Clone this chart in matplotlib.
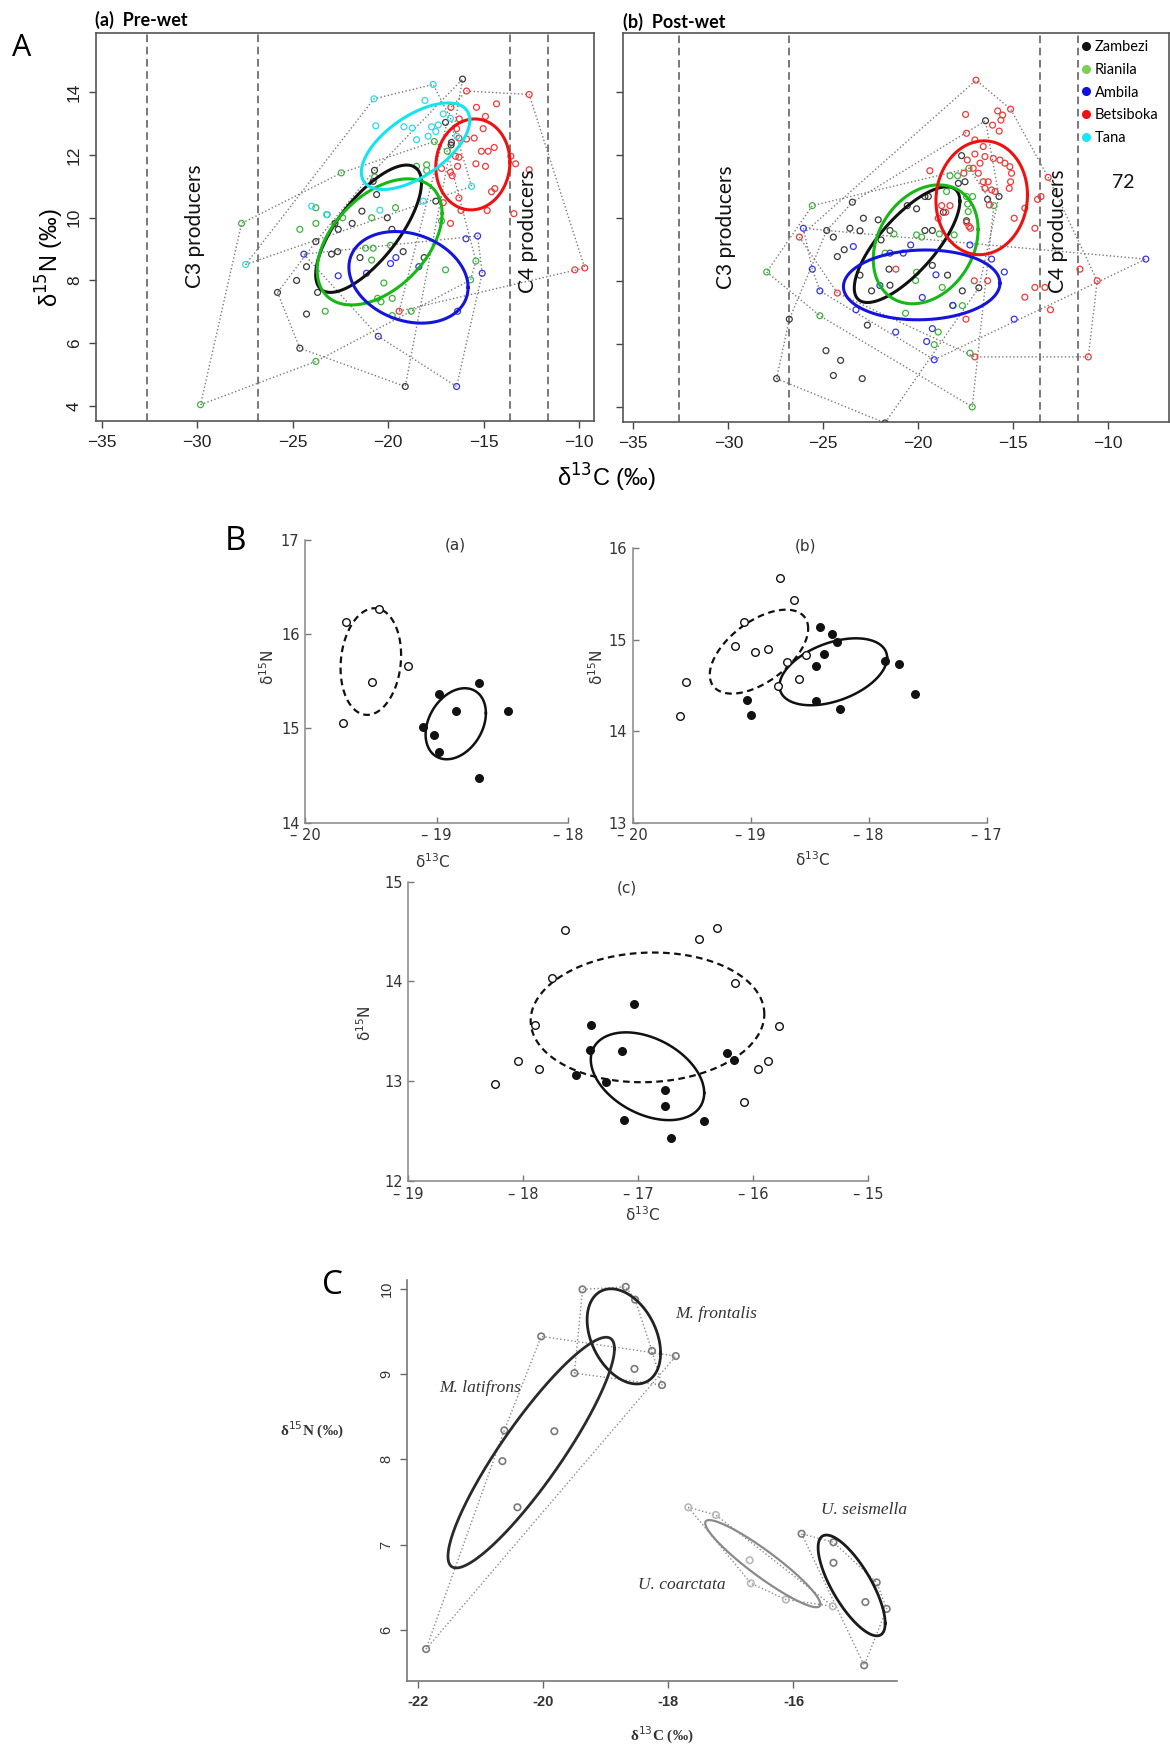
import numpy as np
import matplotlib
matplotlib.use("Agg")
import matplotlib.pyplot as plt
from matplotlib.lines import Line2D

W, H = 1170, 1745

# ---------------- A (a) pre-wet: d13C / d15N per river ----------------
zam_pre_x = [-16.1, -16.99, -16.68, -16.7, -20.71, -20.78, -20.6, -21.37, -21.88, -22.78, -22.61, -20.04, -19.8,
             -23.78, -22.96, -22.64, -21.47, -19.21, -18.11, -24.27, -24.79, -25.79, -23.69, -24.27, -24.62, -19.1, -17.5]
zam_pre_y = [14.42, 13.04, 12.4, 12.32, 11.51, 11.16, 10.74, 10.21, 9.82, 9.82, 9.63, 10.0, 9.63,
             9.24, 8.84, 8.92, 8.73, 8.92, 8.73, 8.44, 8.0, 7.62, 7.62, 6.93, 5.84, 4.62, 10.53]
ria_pre_x = [-27.67, -29.82, -23.78, -22.45, -23.78, -23.19, -24.62, -23.78, -22.38, -20.86, -19.61, -18.51, -17.98,
             -17.98, -17.58, -16.9, -20.78, -21.18, -19.87, -20.86, -20.22, -20.55, -20.37, -19.78, -23.29, -19.78,
             -18.79, -16.99, -15.68, -15.4, -20.7, -17.2]
ria_pre_y = [9.82, 4.04, 5.42, 11.43, 10.32, 10.1, 9.63, 9.82, 10.0, 10.0, 10.32, 11.64, 11.69,
             11.51, 12.43, 12.12, 9.03, 9.03, 9.12, 8.65, 7.92, 7.43, 7.32, 7.43, 7.02, 6.88,
             7.02, 8.34, 8.02, 8.62, 11.3, 9.9]
amb_pre_x = [-24.41, -22.61, -21.13, -19.87, -19.59, -18.39, -15.92, -15.31, -15.07, -16.36, -20.51, -16.41]
amb_pre_y = [8.84, 8.15, 8.23, 8.54, 8.73, 8.44, 9.33, 9.42, 8.23, 7.02, 6.22, 4.62]
bet_pre_x = [-15.89, -12.61, -15.37, -14.32, -14.9, -16.71, -16.27, -15.02, -16.41, -15.89, -15.49, -16.29, -14.44,
             -14.76, -15.11, -16.47, -16.29, -13.57, -13.32, -15.4, -14.9, -16.36, -17.2, -16.73, -16.64, -12.61,
             -14.41, -14.58, -16.29, -16.18, -14.81, -13.41, -16.73, -17.11, -19.42, -10.22, -9.7]
bet_pre_y = [14.04, 13.93, 13.52, 13.63, 13.23, 13.52, 13.15, 12.84, 12.84, 12.51, 12.54, 12.54, 12.24,
             12.12, 12.12, 11.96, 11.93, 11.96, 11.72, 11.72, 11.64, 11.64, 11.57, 11.45, 11.34, 11.53,
             10.93, 10.83, 10.63, 10.23, 10.23, 10.13, 9.82, 10.48, 7.02, 8.34, 8.4]
tan_pre_x = [-17.64, -20.74, -18.07, -20.64, -19.17, -18.73, -17.72, -17.37, -17.11, -16.73, -18.51, -17.9,
             -15.63, -18.16, -20.43, -24.0, -23.22, -27.46, -16.4, -17.5]
tan_pre_y = [14.25, 13.79, 13.74, 12.93, 12.9, 12.86, 12.9, 12.96, 13.31, 13.17, 12.49, 12.6,
             11.0, 10.53, 10.24, 10.37, 10.1, 8.51, 12.6, 12.75]

# ---------------- A (b) post-wet ----------------
zam_post_x = [-16.46, -17.72, -17.89, -17.54, -16.35, -15.75, -18.68, -19.65, -19.47, -20.58, -20.09, -22.11,
              -22.89, -23.47, -24.82, -24.47, -23.6, -23.07, -21.96, -21.49, -19.65, -19.26, -23.9, -24.26,
              -19.26, -21.54, -23.07, -22.46, -21.49, -18.46, -17.46, -17.68, -16.81, -22.68, -26.79, -24.86,
              -24.09, -24.47, -22.95, -27.46, -21.75]
zam_post_y = [13.1, 11.99, 11.11, 11.16, 10.6, 10.69, 10.19, 10.69, 10.69, 10.4, 10.3, 9.95,
              10.0, 10.51, 9.61, 9.4, 9.68, 9.6, 9.31, 9.61, 9.61, 9.61, 9.0, 8.78,
              8.5, 8.38, 8.19, 7.69, 7.87, 8.19, 9.92, 7.69, 7.79, 6.6, 6.79, 5.79,
              5.48, 5.0, 4.9, 4.9, 3.49]
ria_post_x = [-25.58, -27.98, -25.18, -17.28, -17.16, -19.16, -18.95, -20.67, -18.16, -17.68, -18.74, -20.14,
              -20.09, -21.28, -20.09, -19.82, -18.89, -18.11, -17.4, -17.37, -17.46, -17.14, -17.93, -18.33,
              -17.33, -16.02, -18.51, -21.75]
ria_post_y = [10.4, 8.29, 6.9, 5.71, 4.0, 5.98, 6.38, 6.98, 7.22, 7.22, 7.8, 8.02,
              8.28, 9.5, 9.47, 9.4, 9.5, 9.47, 10.45, 10.21, 10.69, 10.69, 11.35, 11.35,
              11.59, 10.4, 10.85, 8.89]
amb_post_x = [-26.05, -25.58, -25.18, -23.28, -23.42, -22.02, -20.4, -20.79, -19.79, -19.07, -18.19, -17.28,
              -16.14, -15.47, -14.95, -21.19, -19.26, -19.56, -19.16, -8.02, -21.49]
amb_post_y = [9.68, 8.38, 7.69, 7.09, 9.1, 7.86, 9.15, 8.89, 7.48, 8.2, 7.23, 9.15,
              8.7, 8.29, 6.79, 6.38, 6.49, 6.08, 5.5, 8.7, 8.89]
bet_post_x = [-16.96, -15.14, -17.51, -15.82, -15.56, -15.65, -16.09, -15.74, -17.46, -17.02, -16.58, -17.02,
              -16.49, -16.05, -15.7, -15.44, -15.18, -15.09, -15.14, -15.21, -16.75, -17.11, -16.84, -16.58,
              -16.32, -16.49, -16.14, -15.96, -17.42, -17.6, -19.39, -18.77, -18.33, -18.56, -18.95, -17.46,
              -17.33, -17.25, -16.26, -14.95, -13.72, -13.54, -13.86, -13.16, -14.39, -21.18, -24.26, -26.26,
              -17.05, -16.35, -17.49, -17.02, -14.39, -13.86, -13.33, -13.04, -11.49, -11.05, -10.58]
bet_post_y = [14.39, 13.47, 13.3, 13.41, 13.28, 13.12, 12.96, 12.77, 12.7, 12.49, 12.28, 12.04,
              11.96, 11.9, 11.85, 11.75, 11.64, 11.43, 11.16, 10.95, 11.75, 11.59, 11.43, 11.16,
              11.16, 10.95, 10.9, 10.85, 11.85, 11.43, 11.51, 10.4, 10.4, 10.19, 10.0, 9.87,
              9.74, 9.68, 10.42, 10.0, 10.6, 10.69, 9.68, 11.3, 10.32, 8.38, 7.62, 9.4,
              8.01, 8.01, 6.79, 5.59, 7.49, 7.8, 7.8, 7.09, 8.38, 5.59, 8.01]

# standard ellipses: centre x, centre y, sd x, sd y, correlation
ell_pre = {'Zambezi': (-21.02, 9.65, 2.77, 2.03, 0.72),
           'Rianila': (-20.44, 9.23, 3.27, 2.01, 0.45),
           'Ambila': (-18.93, 8.10, 3.12, 1.46, -0.22),
           'Betsiboka': (-15.56, 11.70, 1.94, 1.45, 0.05),
           'Tana': (-18.56, 12.28, 2.84, 1.38, 0.6)}
ell_post = {'Zambezi': (-20.59, 9.16, 2.78, 1.84, 0.75),
            'Rianila': (-19.61, 9.17, 2.76, 1.89, 0.25),
            'Ambila': (-19.82, 7.88, 4.12, 1.11, 0.05),
            'Betsiboka': (-16.66, 10.65, 2.41, 1.81, 0.05)}

rivers = ['Zambezi', 'Rianila', 'Ambila', 'Betsiboka', 'Tana']
pt_col = {'Zambezi': '#3a3a3a', 'Rianila': '#3fb23f', 'Ambila': '#3535e0',
          'Betsiboka': '#ee3a3a', 'Tana': '#2fd8e6'}
ell_col = {'Zambezi': '#111111', 'Rianila': '#16b816', 'Ambila': '#1414dc',
           'Betsiboka': '#ee1111', 'Tana': '#14e4f0'}
leg_col = {'Zambezi': '#111111', 'Rianila': '#7ccf55', 'Ambila': '#1010e0',
           'Betsiboka': '#f01010', 'Tana': '#18e6f6'}
source_lines = [-32.6, -26.8, -13.6, -11.6]

pre = {'Zambezi': (zam_pre_x, zam_pre_y), 'Rianila': (ria_pre_x, ria_pre_y), 'Ambila': (amb_pre_x, amb_pre_y),
       'Betsiboka': (bet_pre_x, bet_pre_y), 'Tana': (tan_pre_x, tan_pre_y)}
post = {'Zambezi': (zam_post_x, zam_post_y), 'Rianila': (ria_post_x, ria_post_y),
        'Ambila': (amb_post_x, amb_post_y), 'Betsiboka': (bet_post_x, bet_post_y)}

# ---------------- B: open = group 1 (dashed), filled = group 2 (solid) ----------------
ba_open_x = [-19.69, -19.44, -19.22, -19.49, -19.71]
ba_open_y = [16.13, 16.27, 15.66, 15.49, 15.06]
ba_fill_x = [-18.68, -18.98, -18.85, -18.46, -19.1, -19.02, -18.98, -18.68]
ba_fill_y = [15.48, 15.37, 15.19, 15.19, 15.02, 14.93, 14.75, 14.47]
ba_ell = [(-19.5, 15.71, 0.23, 0.566, 0.12), (-18.855, 15.05, 0.229, 0.377, 0.3)]

bb_open_x = [-18.75, -18.63, -19.06, -19.13, -18.96, -18.85, -18.69, -18.53, -18.59, -18.77, -19.55, -19.6]
bb_open_y = [15.67, 15.44, 15.19, 14.93, 14.87, 14.9, 14.76, 14.83, 14.57, 14.49, 14.54, 14.17]
bb_fill_x = [-18.41, -18.31, -18.27, -18.38, -18.45, -18.45, -17.86, -17.74, -17.61, -18.24, -19.03, -19.0]
bb_fill_y = [15.14, 15.06, 14.98, 14.84, 14.71, 14.33, 14.77, 14.74, 14.41, 14.24, 14.34, 14.18]
bb_ell = [(-18.93, 14.87, 0.417, 0.459, 0.55), (-18.3, 14.65, 0.456, 0.366, 0.42)]

bc_open_x = [-17.64, -16.32, -16.47, -17.75, -16.16, -17.9, -15.78, -18.05, -17.86, -18.25, -15.87, -15.96, -16.08]
bc_open_y = [14.52, 14.54, 14.43, 14.03, 13.98, 13.56, 13.55, 13.2, 13.12, 12.97, 13.2, 13.12, 12.79]
bc_fill_x = [-17.04, -17.41, -17.42, -17.14, -17.54, -17.28, -16.23, -16.17, -16.77, -16.77, -17.12, -16.43, -16.72]
bc_fill_y = [13.77, 13.56, 13.31, 13.3, 13.06, 12.99, 13.28, 13.21, 12.91, 12.75, 12.61, 12.6, 12.43]
bc_ell = [(-16.92, 13.64, 1.016, 0.65, 0.05), (-16.92, 13.05, 0.493, 0.44, -0.38)]

# ---------------- C: four species ----------------
mfro_x = [-19.37, -18.68, -18.53, -18.26, -18.54, -18.1, -19.5]
mfro_y = [9.99, 10.02, 9.87, 9.27, 9.06, 8.87, 9.01]
mlat_x = [-20.03, -17.88, -20.62, -19.82, -20.65, -20.41, -21.87]
mlat_y = [9.44, 9.21, 8.34, 8.33, 7.98, 7.44, 5.78]
ucoa_x = [-17.68, -17.24, -16.7, -16.68, -16.12, -15.37]
ucoa_y = [7.44, 7.35, 6.82, 6.55, 6.36, 6.28]
usei_x = [-15.87, -15.36, -15.36, -14.67, -14.85, -14.51, -14.87]
usei_y = [7.13, 7.03, 6.79, 6.56, 6.33, 6.25, 5.59]
c_ell = {'M. frontalis': (-18.71, 9.44, 0.587, 0.557, -0.35),
         'M. latifrons': (-20.19, 8.08, 1.33, 1.35, 0.9),
         'U. coarctata': (-16.49, 6.78, 0.92, 0.51, -0.93),
         'U. seismella': (-15.07, 6.525, 0.536, 0.59, -0.75)}


def hull(xs, ys):
    pts = sorted(set(zip(xs, ys)))

    def cross(o, a, b):
        return (a[0] - o[0]) * (b[1] - o[1]) - (a[1] - o[1]) * (b[0] - o[0])

    lower, upper = [], []
    for p in pts:
        while len(lower) >= 2 and cross(lower[-2], lower[-1], p) <= 0:
            lower.pop()
        lower.append(p)
    for p in reversed(pts):
        while len(upper) >= 2 and cross(upper[-2], upper[-1], p) <= 0:
            upper.pop()
        upper.append(p)
    h = lower[:-1] + upper[:-1]
    h.append(h[0])
    return np.array(h)


def ellipse_xy(cx, cy, sx, sy, rho, n=240):
    t = np.linspace(0, 2 * np.pi, n)
    d = np.arccos(rho)
    return cx + sx * np.cos(t), cy + sy * np.cos(t - d)


def px_axes(fig, left, top, right, bottom):
    return fig.add_axes([left / W, 1 - bottom / H, (right - left) / W, (bottom - top) / H])


def ftext(fig, x, y, s, **kw):
    kw.setdefault('ha', 'center')
    kw.setdefault('va', 'center')
    fig.text(x / W, 1 - y / H, s, **kw)


fig = plt.figure(figsize=(W / 100, H / 100), dpi=100)
fig.patch.set_facecolor('white')

# ================= panel A =================
def iso_panel(ax, data, ells, xlim, show_ylabels):
    for xv in source_lines:
        ax.axvline(xv, color='#555555', ls=(0, (5, 3)), lw=1.1, zorder=1)
    for r in rivers:
        if r not in data:
            continue
        xs, ys = data[r]
        hp = hull(xs, ys)
        ax.plot(hp[:, 0], hp[:, 1], color='#7a7a7a', ls=':', lw=1.0, zorder=2)
    for r in rivers:
        if r not in data:
            continue
        xs, ys = data[r]
        ax.scatter(xs, ys, s=18, facecolors='none', edgecolors=pt_col[r], linewidths=0.9, zorder=3)
    for r in rivers:
        if r not in ells:
            continue
        ex, ey = ellipse_xy(*ells[r])
        ax.plot(ex, ey, color=ell_col[r], lw=2.2, zorder=4)
    ax.set_xlim(*xlim)
    ax.set_ylim(3.53, 15.88)
    ax.set_xticks([-35, -30, -25, -20, -15, -10])
    ax.set_yticks([4, 6, 8, 10, 12, 14])
    ax.tick_params(direction='out', length=5, width=1, colors='#444444', labelsize=12.5, pad=5)
    for lab in ax.get_xticklabels() + ax.get_yticklabels():
        lab.set_family('Liberation Sans')
        lab.set_color('#222222')
    if show_ylabels:
        plt.setp(ax.get_yticklabels(), rotation=90, va='center')
    else:
        ax.set_yticklabels([])
    for sp in ax.spines.values():
        sp.set_color('#555555')
        sp.set_linewidth(1.2)
    ax.text(-30.1, 9.72, 'C3 producers', rotation=90, ha='center', va='center',
            family='Lato', fontsize=15, color='#111111', zorder=5)
    ax.text(-12.65, 9.58, 'C4 producers', rotation=90, ha='center', va='center',
            family='Lato', fontsize=15, color='#111111', zorder=5)


axa = px_axes(fig, 95.7, 33.3, 594.3, 420.7)
iso_panel(axa, pre, ell_pre, (-35.31, -9.2), True)
axb = px_axes(fig, 623.3, 33.3, 1169.0, 421.7)
iso_panel(axb, post, ell_post, (-35.53, -6.8), False)
axb.text(-9.23, 11.15, '72', ha='center', va='center', family='Lato', fontsize=14, color='#111111')
handles = [Line2D([], [], marker='o', ls='', color=leg_col[r], markersize=5.5) for r in rivers]
axb.legend(handles, rivers, loc='upper left', bbox_to_anchor=(0.836, 0.99), frameon=False,
           prop={'family': 'Lato', 'size': 10.5}, handlelength=0.5, handletextpad=0.35,
           labelspacing=0.6, borderaxespad=0, borderpad=0.2)

ftext(fig, 95, 20, '(a)  Pre-wet', ha='left', family='Lato', fontweight='bold', fontsize=13)
ftext(fig, 623, 22, '(b)  Post-wet', ha='left', family='Lato', fontweight='bold', fontsize=13)
ftext(fig, 22, 48, 'A', family='Open Sans', fontsize=22)
ftext(fig, 50, 258, r'δ$^{15}$N (‰)', rotation=90, family='Liberation Sans', fontsize=17)
ftext(fig, 606, 478, r'δ$^{13}$C (‰)', family='Liberation Sans', fontsize=17)

# ================= panel B =================
def b_panel(ax, ox, oy, fx, fy, ells, xlim, ylim, xticks, yticks):
    ex, ey = ellipse_xy(*ells[0])
    ax.plot(ex, ey, color='#111111', lw=1.6, ls=(0, (3, 2)), zorder=2)
    ex, ey = ellipse_xy(*ells[1])
    ax.plot(ex, ey, color='#111111', lw=1.8, zorder=2)
    ax.scatter(ox, oy, s=30, facecolors='white', edgecolors='#111111', linewidths=1.0, zorder=3)
    ax.scatter(fx, fy, s=30, facecolors='#111111', edgecolors='#111111', linewidths=1.0, zorder=3)
    ax.set_xlim(*xlim)
    ax.set_ylim(*ylim)
    ax.set_xticks(xticks)
    ax.set_xticklabels(['– %d' % abs(v) for v in xticks])
    ax.set_yticks(yticks)
    ax.tick_params(direction='in', length=4, width=1, colors='#777777', labelsize=10.5, pad=4,
                   labelcolor='#333333')
    for s in ['top', 'right']:
        ax.spines[s].set_visible(False)
    for s in ['left', 'bottom']:
        ax.spines[s].set_color('#888888')
        ax.spines[s].set_linewidth(1.1)
    ax.patch.set_alpha(0)


ax_ba = px_axes(fig, 305, 540, 568.3, 822.7)
b_panel(ax_ba, ba_open_x, ba_open_y, ba_fill_x, ba_fill_y, ba_ell, (-20, -18), (14, 17),
        [-20, -19, -18], [14, 15, 16, 17])
ax_bb = px_axes(fig, 632.7, 548.3, 986.7, 822.7)
b_panel(ax_bb, bb_open_x, bb_open_y, bb_fill_x, bb_fill_y, bb_ell, (-20, -17), (13, 16),
        [-20, -19, -18, -17], [13, 14, 15, 16])
ax_bc = px_axes(fig, 408.3, 881.7, 868.3, 1181)
b_panel(ax_bc, bc_open_x, bc_open_y, bc_fill_x, bc_fill_y, bc_ell, (-19, -15), (12, 15),
        [-19, -18, -17, -16, -15], [12, 13, 14, 15])

for (x, y, s) in [(455, 545, '(a)'), (806, 546, '(b)'), (627, 888, '(c)')]:
    ftext(fig, x, y, s, family='DejaVu Sans', fontsize=11, color='#333333')
for (x, y) in [(268, 667), (597, 667), (365, 1023)]:
    ftext(fig, x, y, r'δ$^{15}$N', rotation=90, family='DejaVu Sans', fontsize=11, color='#333333')
for (x, y) in [(433, 862), (813, 860), (643, 1215)]:
    ftext(fig, x, y, r'δ$^{13}$C', family='DejaVu Sans', fontsize=11, color='#333333')
ftext(fig, 235, 542, 'B', family='Open Sans', fontsize=24)

# ================= panel C =================
axc = px_axes(fig, 407.3, 1280, 896.7, 1680.7)
c_groups = [('M. frontalis', mfro_x, mfro_y, '#222222', '#7a7a7a'),
            ('M. latifrons', mlat_x, mlat_y, '#2a2a2a', '#7a7a7a'),
            ('U. coarctata', ucoa_x, ucoa_y, '#8a8a8a', '#b8b8b8'),
            ('U. seismella', usei_x, usei_y, '#1a1a1a', '#7a7a7a')]
for name, xs, ys, ecol, pcol in c_groups:
    hp = hull(xs, ys)
    axc.plot(hp[:, 0], hp[:, 1], color='#8a8a8a', ls=':', lw=1.0, zorder=1)
for name, xs, ys, ecol, pcol in c_groups:
    axc.scatter(xs, ys, s=22, facecolors='none', edgecolors=pcol, linewidths=1.2, zorder=2)
    ex, ey = ellipse_xy(*c_ell[name])
    axc.plot(ex, ey, color=ecol, lw=2.0 if ecol != '#8a8a8a' else 1.6, zorder=3)

axc.set_xlim(-22.17, -14.35)
axc.set_ylim(5.41, 10.1)
axc.set_xticks([-22, -20, -18, -16])
axc.set_xticklabels(['-22', '-20', '-18', '-16'])
axc.set_yticks([6, 7, 8, 9, 10])
axc.tick_params(direction='out', length=5, width=1, colors='#666666', labelsize=10.5, pad=5,
                labelcolor='#333333')
plt.setp(axc.get_yticklabels(), rotation=90, va='center')
for lab in axc.get_xticklabels():
    lab.set_family('Liberation Sans')
    lab.set_fontweight('bold')
for lab in axc.get_yticklabels():
    lab.set_family('Liberation Sans')
for s in ['top', 'right']:
    axc.spines[s].set_visible(False)
for s in ['left', 'bottom']:
    axc.spines[s].set_color('#777777')
    axc.spines[s].set_linewidth(1.2)
axc.patch.set_alpha(0)

for name, x, y in [('M. frontalis', -17.24, 9.7), ('M. latifrons', -21.0, 8.84),
                   ('U. coarctata', -17.78, 6.53), ('U. seismella', -14.87, 7.41)]:
    axc.text(x, y, name, ha='center', va='center', family='Liberation Serif', style='italic',
             fontsize=12.5, color='#333333', zorder=4)

ftext(fig, 312, 1430, r'δ$^{15}$N (‰)', family='Liberation Serif', fontweight='bold', fontsize=11, color='#333333')
ftext(fig, 662, 1735, r'δ$^{13}$C (‰)', family='Liberation Serif', fontweight='bold', fontsize=11, color='#333333')
ftext(fig, 332, 1286, 'C', family='Open Sans', fontsize=24)

fig.savefig('out.png', dpi=100)
